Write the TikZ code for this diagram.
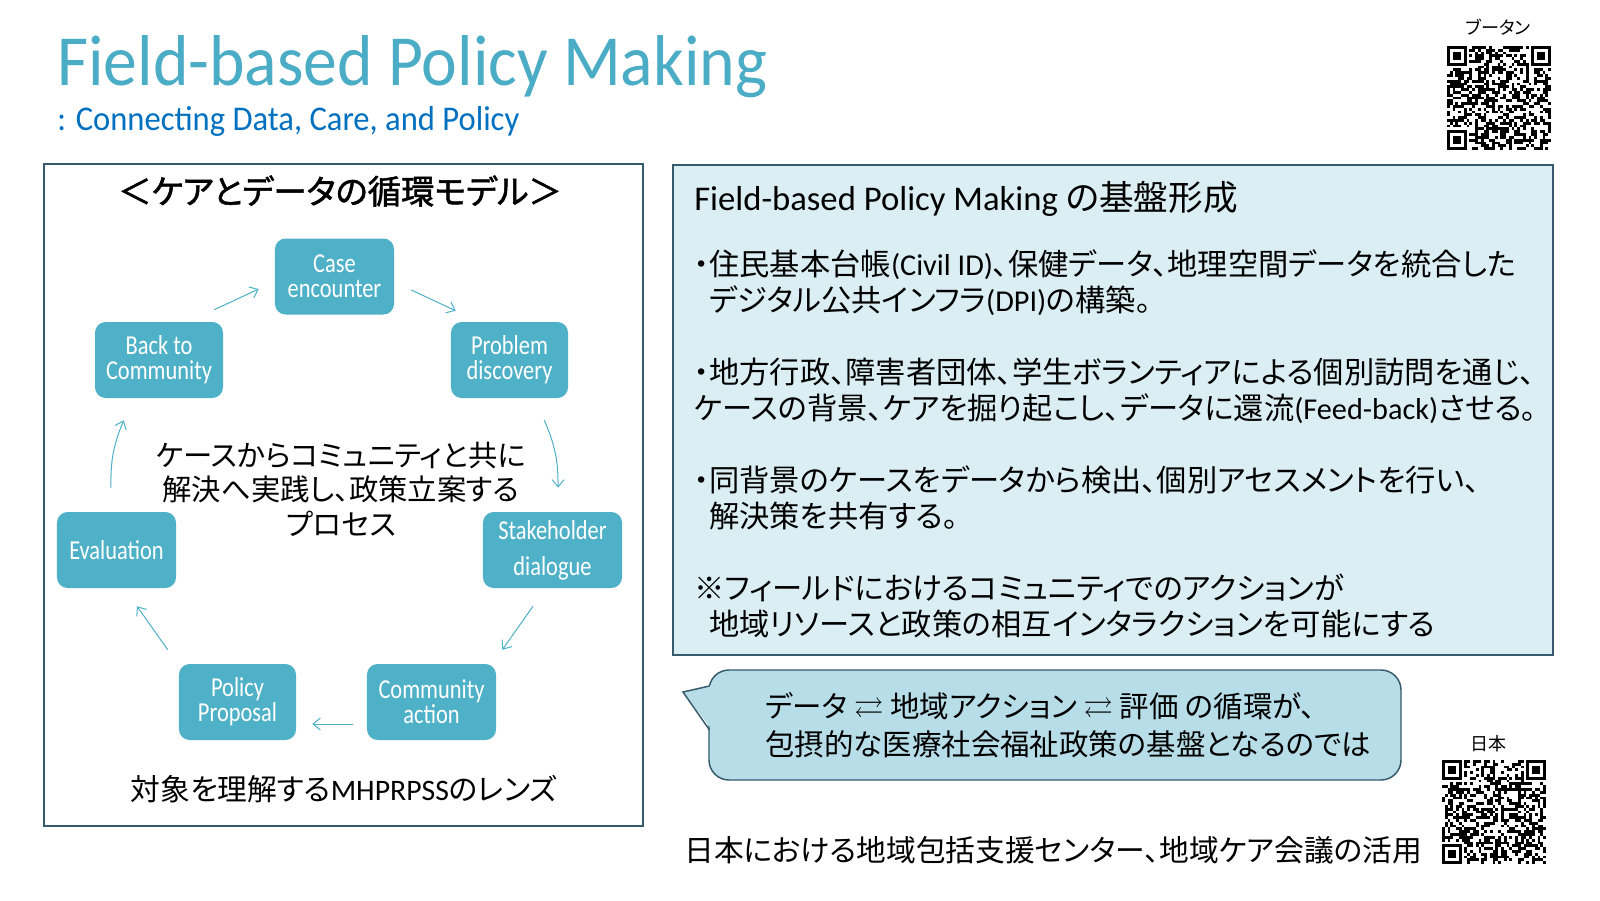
\documentclass[tikz,border=0pt]{standalone}
\usepackage{fontspec}
\usepackage{amssymb}
\usetikzlibrary{arrows.meta}
\setmainfont{Carlito}
\newfontfamily\jp[RawFeature=+palt]{Noto Sans CJK JP}
\newfontfamily\jpb[RawFeature=+palt,FakeBold=1.6]{Noto Sans CJK JP}
\newfontfamily\titlefont[FakeStretch=0.94]{Carlito}
\newfontfamily\stagefont[FakeStretch=0.82]{Carlito}
\newcommand{\eng}[1]{{\rmfamily #1}}
\definecolor{titlecol}{HTML}{4BACC6}
\definecolor{subcol}{HTML}{0070C0}
\definecolor{stagecol}{HTML}{4FB1C7}
\definecolor{framecol}{HTML}{345A6B}
\definecolor{panelcol}{HTML}{DAEEF3}
\definecolor{bubblecol}{HTML}{B7DEE8}
\newcommand{\qrpatch}[3]{%
	\begin{scope}[shift={(#1,#2)}]
		\pgfmathsetseed{#3}
		\foreach \i in {0,...,36}
			\foreach \j in {0,...,36}{
				\pgfmathparse{rnd}
				\ifdim\pgfmathresult pt<0.5pt \fill (\i*2.81,\j*2.81) rectangle ++(2.81,2.81);\fi
			}
		\foreach \a/\b in {0/0,30/0,0/30}{
			\fill[white] ({(\a-1)*2.81},{(\b-1)*2.81}) rectangle ++(25.29,25.29);
			\fill ({\a*2.81},{\b*2.81}) rectangle ++(19.67,19.67);
			\fill[white] ({(\a+1)*2.81},{(\b+1)*2.81}) rectangle ++(14.05,14.05);
			\fill ({(\a+2)*2.81},{(\b+2)*2.81}) rectangle ++(8.43,8.43);
		}
	\end{scope}}

\begin{document}
\begin{tikzpicture}[x=0.75pt,y=-0.75pt,
	stage/.style={fill=stagecol,rounded corners=8pt,text=white,align=center,inner sep=0pt,
		minimum height=57pt,font=\stagefont\fontsize{20.5}{18.75}\selectfont},
	cyc/.style={draw=stagecol,line width=0.75pt,-{Straight Barb[length=5.5pt,width=9pt]}},
	frame/.style={draw=framecol,line width=1.1pt},
	jptext/.style={inner sep=0pt,font=\jp\fontsize{22.3}{27}\selectfont},
	qrlabel/.style={inner sep=0pt,font=\jp\fontsize{13.5}{15}\selectfont}]
	\fill[white] (0,0) rectangle (1600,900);
	\useasboundingbox (0,0) rectangle (1600,900);

	\node (title) [anchor=base west,inner sep=0pt,text=titlecol,font=\titlefont\fontsize{54}{60}\selectfont] at (57,85) {Field-based Policy Making};
	\node (subtitle) [anchor=base west,inner sep=0pt,text=subcol,font=\titlefont\fontsize{26}{30}\selectfont] at (57,130) {: Connecting Data, Care, and Policy};

	\draw[frame] (44,164) rectangle (643,826);
	\node (mtitle) [inner sep=0pt,font=\jpb\fontsize{25}{30}\selectfont] at (340,191) {＜ケアとデータの循環モデル＞};

	\node (case) [stage,minimum width=89.3pt] at (334.5,276.5) {Case\\encounter};
	\node (prob) [stage,minimum width=87.8pt] at (509.5,360) {Problem\\discovery};
	\node (back) [stage,minimum width=96pt] at (159,360) {Back to\\Community};
	\node (stake) [stage,minimum width=104.3pt,font=\stagefont\fontsize{20.5}{27}\selectfont] at (552.5,550) {Stakeholder\\dialogue};
	\node (eval) [stage,minimum width=89.3pt] at (116.5,550) {Evaluation};
	\node (comm) [stage,minimum width=96.8pt] at (431.5,702) {Community\\action};
	\node (pol) [stage,minimum width=87.8pt] at (237.5,702) {Policy\\Proposal};

	\draw[cyc] ([shift={(-9,-12)}]back.north east) -- ([shift={(-16,12.5)}]case.west);
	\draw[cyc] ([shift={(17,13.5)}]case.east) -- ([shift={(5,-11)}]prob.north west);
	\draw[cyc] ([shift={(-24,22)}]prob.south east) to[bend left=12] ([shift={(5.5,-24)}]stake.north);
	\draw[cyc] ([shift={(-19.5,18)}]stake.south) -- ([shift={(6,-14)}]comm.north east);
	\draw[cyc] ([shift={(-14,22)}]comm.west) -- ([shift={(16,22)}]pol.east);
	\draw[cyc] ([shift={(-11,-14)}]pol.north west) -- ([shift={(20.5,18)}]eval.south);
	\draw[cyc] ([shift={(-5.5,-24)}]eval.north) to[bend left=12] ([shift={(29,22)}]back.south west);

	\node (ctext) [jptext,align=center,font=\jp\fontsize{22}{26}\selectfont] at (341,489) {ケースからコミュニティと共に\\解決へ実践し、政策立案する\\プロセス};
	\node (lens) [jptext] at (344,789) {対象を理解する\eng{MHPRPSS}のレンズ};

	\draw[frame,fill=panelcol] (673,165) rectangle (1553,655);
	\node (rhead) [anchor=west,inner sep=0pt,font=\fontsize{26}{30}\selectfont] at (694,199) {Field-based Policy Making {\jp の基盤形成}};
	\node (rbody) [jptext,anchor=north west,align=left,font=\jp\fontsize{22.7}{27}\selectfont] at (694,249.5) {・住民基本台帳\eng{(Civil ID)}、保健データ、地理空間データを統合した\\
		\phantom{・}デジタル公共インフラ\eng{(DPI)}の構築。\\[27pt]
		・地方行政、障害者団体、学生ボランティアによる個別訪問を通じ、\\
		ケースの背景、ケアを掘り起こし、データに還流\eng{(Feed-back)}させる。\\[27pt]
		・同背景のケースをデータから検出、個別アセスメントを行い、\\
		\phantom{・}解決策を共有する。\\[27pt]
		※フィールドにおけるコミュニティでのアクションが\\
		\phantom{・}地域リソースと政策の相互インタラクションを可能にする};

	\draw[frame,fill=bubblecol,rounded corners=15pt] (709,670) rectangle (1401,780);
	\fill[bubblecol] (683,692) -- (713,685) -- (713,731) -- cycle;
	\draw[frame] (709.5,686) -- (683,692) -- (709.5,730);
	\node (btext) [jptext,anchor=north west,align=left,font=\jp\fontsize{22.1}{28.5}\selectfont] at (765,692) {データ $\rightleftarrows$ 地域アクション $\rightleftarrows$ 評価 の循環が、\\包摂的な医療社会福祉政策の基盤となるのでは};

	\node (usage) [jptext,anchor=west] at (684,850) {日本における地域包括支援センター、地域ケア会議の活用};

	\node (qrbt) [qrlabel] at (1498,27) {ブータン};
	\qrpatch{1447}{46}{7}
	\node (qrjp) [qrlabel] at (1488,744) {日本};
	\qrpatch{1442}{760}{23}
\end{tikzpicture}
\end{document}
